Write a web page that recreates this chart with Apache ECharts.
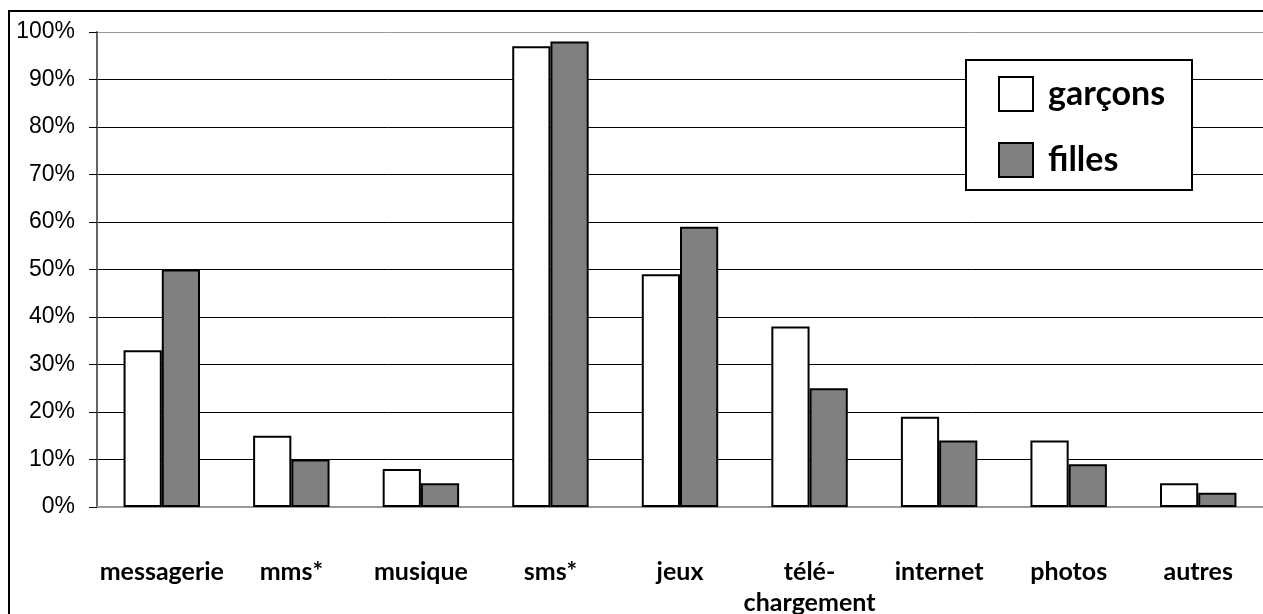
<!DOCTYPE html>
<html>
<head>
<meta charset="utf-8">
<script src="https://cdn.jsdelivr.net/npm/echarts@6/dist/echarts.min.js"></script>
<style>
html,body{margin:0;padding:0;background:#fff;overflow:hidden;}
#chart{width:1263px;height:614px;}
</style>
</head>
<body>
<div id="chart"></div>
<script>
var categories = ['messagerie', 'mms*', 'musique', 'sms*', 'jeux', 'télé-\nchargement', 'internet', 'photos', 'autres'];
var garcons = [33, 15, 8, 97, 49, 38, 19, 14, 5];
var filles = [50, 10, 5, 98, 59, 25, 14, 9, 3];
var seriesNames = ['garçons', 'filles'];

var chart = echarts.init(document.getElementById('chart'));
var gridColors = ['#999999','#000000','#000000','#000000','#000000','#000000','#000000','#000000','#000000','#000000','#999999'];
chart.setOption({
  animation: false,
  backgroundColor: '#ffffff',
  graphic: [
    {type: 'rect', shape: {x: 9, y: 11, width: 1300, height: 700}, style: {fill: 'none', stroke: '#000', lineWidth: 2}, z: 0},
    {type: 'rect', shape: {x: 966, y: 60, width: 226, height: 130}, style: {fill: '#fff', stroke: '#000', lineWidth: 2}, z: 5}
  ],
  grid: {left: 97, top: 32, right: 0, bottom: 107, containLabel: false, outerBoundsMode: 'none'},
  legend: {
    orient: 'vertical',
    left: 998, top: 76,
    padding: 0,
    itemWidth: 34, itemHeight: 34, itemGap: 30,
    icon: 'rect',
    z: 10,
    textStyle: {fontFamily: 'Lato', fontWeight: 'bold', fontSize: 34, color: '#000', padding: [4, 0, 0, 10]},
    data: seriesNames
  },
  xAxis: {
    type: 'category',
    data: categories,
    axisLine: {show: true, lineStyle: {color: '#999', width: 2}},
    axisTick: {show: false},
    axisLabel: {interval: 0, margin: 49, fontFamily: 'Lato', fontWeight: 'bold', fontSize: 25, color: '#000', lineHeight: 31, verticalAlign: 'top'},
    splitLine: {show: false}
  },
  yAxis: {
    type: 'value', min: 0, max: 100, interval: 10,
    axisLine: {show: true, lineStyle: {color: '#666', width: 2}},
    axisTick: {show: true, length: 8, lineStyle: {color: '#000', width: 1}},
    axisLabel: {formatter: '{value}%', margin: 22, fontFamily: 'Liberation Sans', fontSize: 23, color: '#000'},
    splitLine: {show: true, lineStyle: {color: gridColors, width: 1}}
  },
  series: [
    {name: seriesNames[0], type: 'bar', data: garcons, barGap: '0%', barCategoryGap: '41%',
     itemStyle: {color: '#ffffff', borderColor: '#000', borderWidth: 2}},
    {name: seriesNames[1], type: 'bar', data: filles, barGap: '0%', barCategoryGap: '41%',
     itemStyle: {color: '#808080', borderColor: '#000', borderWidth: 2}}
  ]
});
</script>
</body>
</html>
